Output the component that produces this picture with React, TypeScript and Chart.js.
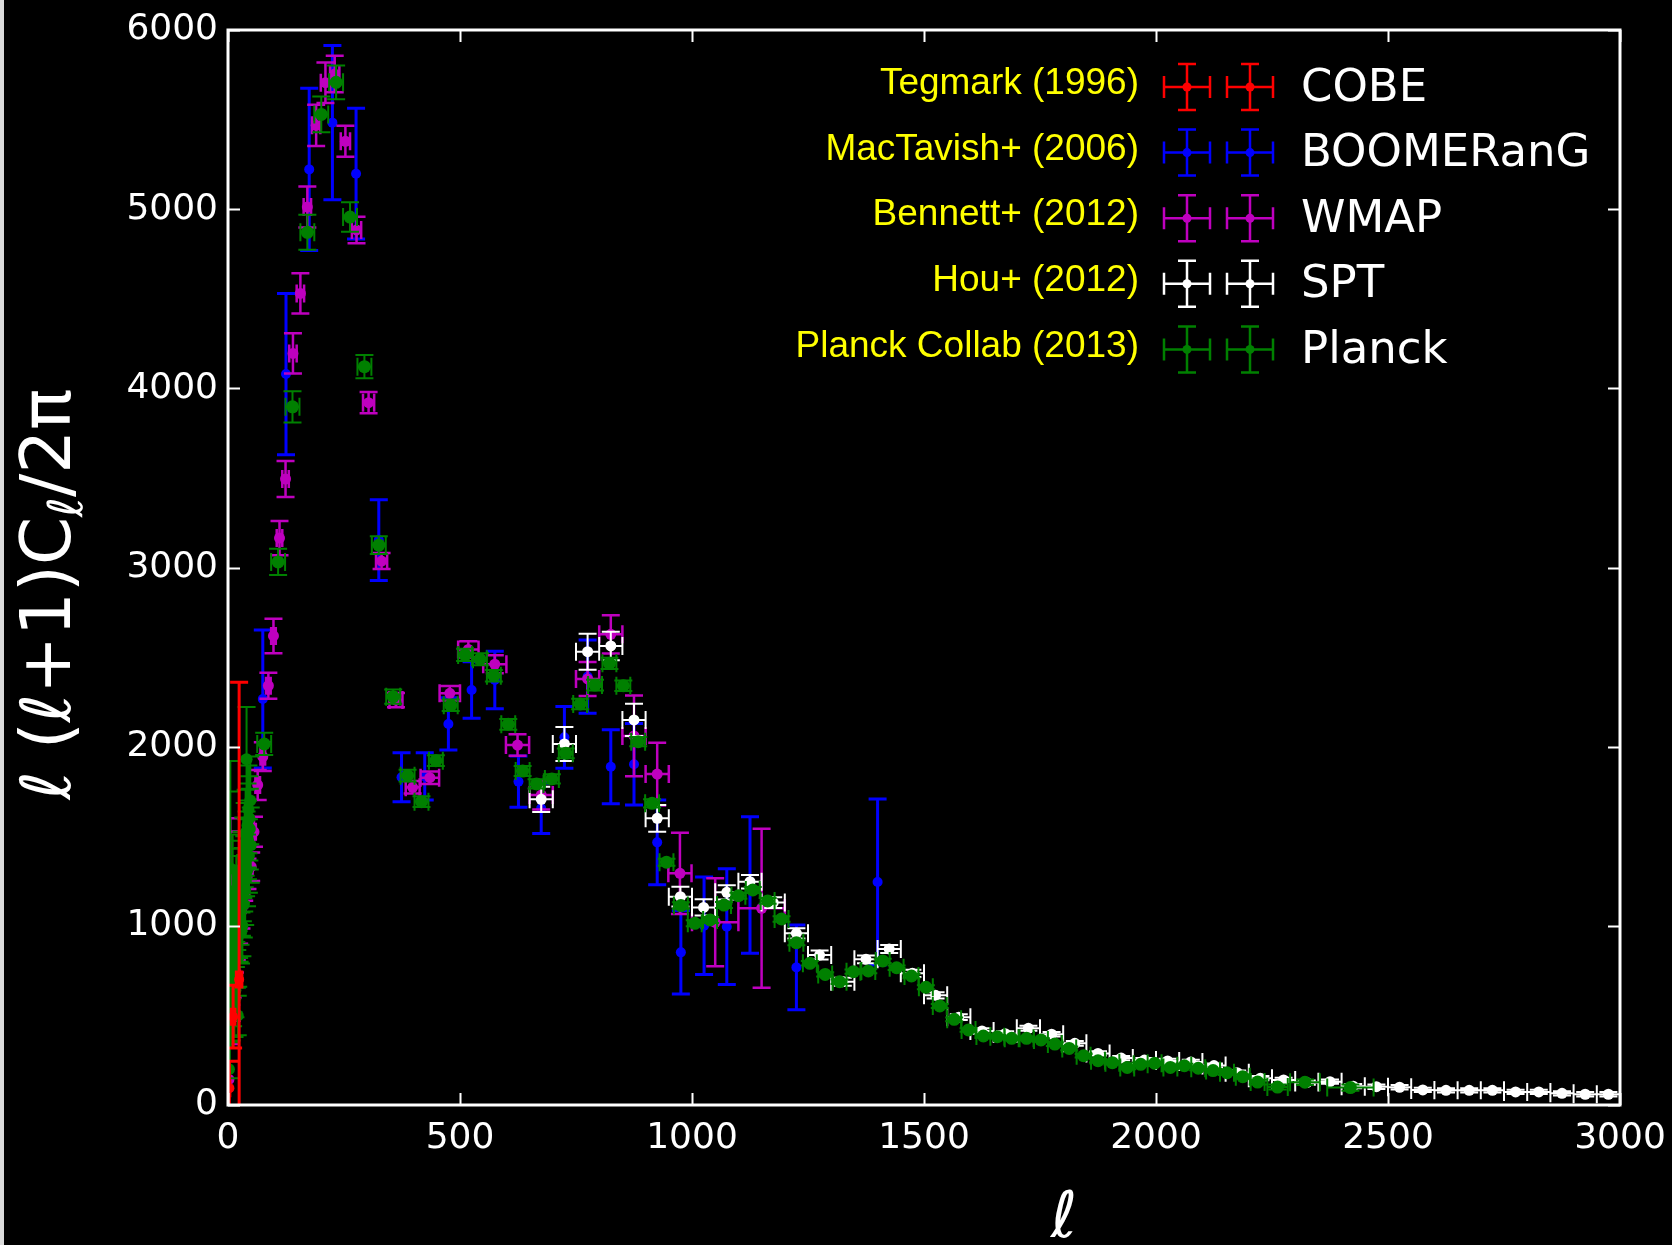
import React, { useEffect, useRef } from 'react';
import { Chart, registerables } from 'chart.js';

Chart.register(...registerables);

// ---------- CMB temperature power spectrum, D_ell = ell(ell+1)C_ell/2pi ----------

// COBE (Tegmark 1996)
const cobeEll = [3, 11, 24];
const cobeD = [94, 493, 700];
const cobeErr = [150, 175, 1660];
const cobeXErr = [1, 4, 6];

// BOOMERanG (MacTavish+ 2006)
const boomEll = [75, 125, 175, 225, 276, 325, 374, 424, 475, 525, 575, 626, 675, 725, 775, 825, 875, 925, 976, 1026, 1075, 1125, 1225, 1400];
const boomD = [2266, 4080, 5222, 5483, 5198, 3153, 1829, 1834, 2127, 2316, 2372, 1805, 1656, 2052, 2391, 1888, 1902, 1466, 852, 1001, 995, 1228, 768, 1245];
const boomErr = [385, 450, 453, 430, 365, 225, 137, 132, 146, 158, 160, 143, 140, 172, 205, 207, 228, 237, 233, 272, 323, 381, 237, 463];

// WMAP 9-year (Bennett+ 2012)
const wmapEll = [2, 3, 4, 5, 6, 7, 8, 9, 10, 12, 15, 19, 24, 29, 35, 42, 50, 56, 64, 75, 87, 98, 111, 124, 140, 156, 171, 190, 210, 230, 253, 277, 303, 331, 362, 398, 435, 478, 518, 575, 624, 675, 775, 825, 875, 925, 974, 1050, 1150];
const wmapD = [143, 1107, 640, 1270, 1050, 760, 640, 950, 760, 980, 860, 920, 1000, 1080, 1230, 1290, 1330, 1525, 1786, 1944, 2340, 2618, 3164, 3494, 4195, 4530, 5012, 5468, 5706, 5754, 5379, 4884, 3920, 3036, 2260, 1773, 1827, 2298, 2543, 2460, 2009, 1730, 2378, 2627, 2060, 1847, 1293, 1020, 1098];
const wmapErr = [450, 420, 300, 330, 260, 200, 170, 200, 160, 150, 120, 110, 100, 95, 90, 85, 80, 84, 84, 80, 72, 96, 95, 101, 112, 113, 114, 115, 113, 102, 87, 74, 59, 45, 40, 35, 35, 40, 45, 50, 60, 80, 95, 107, 225, 175, 227, 246, 444];
const wmapXErr = [0, 0, 0, 0, 0, 0, 0, 0, 0, 1, 2, 2, 2, 2, 3, 3, 3, 4, 5, 5, 5, 5, 6, 7, 8, 8, 8, 9, 10, 10, 10, 10, 12, 12, 14, 15, 20, 22, 22, 25, 25, 25, 25, 25, 25, 25, 25, 50, 50];

// SPT (Hou+ 2012)
const sptEll = [675, 725, 775, 825, 875, 925, 975, 1025, 1075, 1125, 1175, 1225, 1275, 1325, 1375, 1425, 1475, 1525, 1575, 1625, 1675, 1725, 1775, 1825, 1875, 1925, 1975, 2025, 2075, 2125, 2175, 2225, 2275, 2325, 2375, 2425, 2475, 2525, 2575, 2625, 2675, 2725, 2775, 2825, 2875, 2925, 2975];
const sptD = [1706, 2015, 2530, 2562, 2149, 1600, 1163, 1103, 1187, 1246, 1130, 958, 837, 688, 813, 871, 735, 612, 490, 413, 398, 428, 395, 344, 288, 262, 251, 246, 240, 220, 180, 150, 140, 125, 130, 105, 102, 99, 84, 82, 82, 82, 73, 73, 65, 60, 60];
const sptErr = [70, 95, 100, 80, 90, 75, 55, 45, 40, 38, 30, 28, 25, 22, 22, 22, 20, 18, 16, 15, 14, 14, 13, 13, 12, 12, 12, 12, 12, 12, 12, 12, 12, 12, 12, 12, 12, 12, 12, 12, 12, 12, 12, 12, 12, 12, 12];
const sptXErr = [25, 25, 25, 25, 25, 25, 25, 25, 25, 25, 25, 25, 25, 25, 25, 25, 25, 25, 25, 25, 25, 25, 25, 25, 25, 25, 25, 25, 25, 25, 25, 25, 25, 25, 25, 25, 25, 25, 25, 25, 25, 25, 25, 25, 25, 25, 25];

// Planck 2013 (Planck Collab): unbinned low-ell part
const planckLowEll = [2, 3, 4, 5, 6, 7, 8, 9, 10, 11, 12, 13, 14, 15, 16, 17, 18, 19, 20, 21, 22, 23, 24, 25, 26, 27, 28, 29, 30, 31, 32, 33, 34, 35, 36, 37, 38, 39, 40, 41, 42, 43, 44, 45, 46, 47, 48, 49];
const planckLowD = [200, 1050, 480, 1320, 620, 900, 560, 850, 1180, 620, 900, 1050, 520, 1080, 640, 980, 1150, 820, 1080, 500, 820, 1200, 1010, 980, 1250, 1090, 960, 1300, 1140, 1000, 1230, 1380, 1120, 1290, 1450, 1200, 1520, 1380, 1930, 1310, 1560, 1480, 1650, 1390, 1600, 1540, 1700, 1450];
const planckLowErr = [400, 700, 330, 600, 300, 320, 200, 260, 330, 180, 230, 250, 140, 250, 150, 210, 240, 165, 215, 110, 160, 230, 190, 180, 225, 195, 170, 225, 195, 170, 205, 225, 185, 210, 235, 195, 240, 215, 292, 200, 235, 220, 245, 205, 235, 225, 245, 210];

// Planck 2013: binned high-ell part
const planckBinEll = [78, 108, 139, 171, 201, 233, 263, 294, 325, 356, 387, 417, 448, 480, 511, 543, 573, 604, 635, 665, 698, 728, 759, 791, 822, 852, 884, 914, 945, 976, 1006, 1039, 1069, 1100, 1131, 1163, 1193, 1225, 1254, 1287, 1318, 1348, 1380, 1411, 1441, 1473, 1504, 1534, 1565, 1596, 1628, 1658, 1689, 1721, 1752, 1782, 1813, 1844, 1875, 1906, 1938, 1967, 1997, 2031, 2061, 2091, 2123, 2153, 2187, 2219, 2262, 2321, 2419];
const planckBinD = [2015, 3031, 3897, 4871, 5529, 5708, 4956, 4121, 3125, 2279, 1838, 1693, 1922, 2231, 2512, 2488, 2396, 2125, 1864, 1792, 1820, 1963, 2238, 2344, 2465, 2340, 2028, 1684, 1355, 1113, 1014, 1033, 1116, 1168, 1200, 1139, 1038, 906, 791, 729, 688, 744, 748, 804, 766, 720, 657, 553, 478, 419, 385, 381, 372, 372, 363, 340, 316, 275, 247, 236, 210, 227, 233, 210, 219, 205, 192, 180, 158, 128, 100, 127, 97];
const planckBinErr = [62, 73, 87, 98, 100, 94, 82, 65, 50, 40, 33, 30, 30, 32, 34, 33, 32, 30, 28, 26, 26, 27, 29, 30, 31, 29, 26, 23, 20, 18, 17, 17, 17, 17, 17, 16, 15, 14, 13, 12, 12, 12, 12, 12, 12, 12, 11, 11, 10, 10, 10, 10, 10, 10, 10, 10, 10, 10, 10, 10, 10, 10, 10, 10, 11, 11, 11, 12, 12, 13, 14, 15, 18];
const planckBinXErr = [15, 15, 15, 15, 15, 15, 15, 15, 15, 15, 15, 15, 15, 15, 15, 15, 15, 15, 15, 15, 15, 15, 15, 15, 15, 15, 15, 15, 15, 15, 15, 15, 15, 15, 15, 15, 15, 15, 15, 15, 15, 15, 15, 15, 15, 15, 15, 15, 15, 15, 15, 15, 15, 15, 15, 15, 15, 15, 15, 15, 15, 15, 15, 15, 15, 15, 15, 15, 15, 15, 22, 32, 50];

// Axis ticks
const xTicks = [0, 500, 1000, 1500, 2000, 2500, 3000];
const yTicks = [0, 1000, 2000, 3000, 4000, 5000, 6000];

// Legend: reference, experiment name
const legendRefs = ['Tegmark (1996)', 'MacTavish+ (2006)', 'Bennett+ (2012)', 'Hou+ (2012)', 'Planck Collab (2013)'];
const legendNames = ['COBE', 'BOOMERanG', 'WMAP', 'SPT', 'Planck'];

const RED = '#ff0000';
const BLUE = '#0000ff';
const MAGENTA = '#bf00bf';
const WHITE = '#ffffff';
const GREEN = '#008000';
const legendColors = [RED, BLUE, MAGENTA, WHITE, GREEN];

const SANS = "'DejaVu Sans'";
const REF_FONT = "'Liberation Sans'";
const CAP = 9;

function zip(ell: number[], d: number[]) {
  return ell.map((x, i) => ({ x, y: d[i] }));
}

function series(label: string, color: string, ell: number[], d: number[], yErr: number[], xErr: number[] | null, radius: number, barWidth: number, order: number) {
  return {
    label,
    data: zip(ell, d),
    yErr,
    xErr,
    barWidth,
    order,
    pointRadius: radius,
    pointHoverRadius: radius,
    pointBackgroundColor: color,
    pointBorderColor: color,
    pointBorderWidth: 0,
    borderColor: color,
    backgroundColor: color,
    showLine: false,
  };
}

// error bars with caps, drawn just before each dataset's markers
const errorBarPlugin = {
  id: 'errorBars',
  beforeDatasetDraw(chart: any, args: any) {
    const ds = chart.data.datasets[args.index];
    const { ctx, chartArea: a } = chart;
    const xs = chart.scales.x;
    const ys = chart.scales.y;
    ctx.save();
    ctx.beginPath();
    ctx.rect(a.left, a.top, a.right - a.left, a.bottom - a.top);
    ctx.clip();
    ctx.strokeStyle = ds.borderColor;
    ctx.lineWidth = ds.barWidth;
    ctx.lineCap = 'butt';
    ctx.beginPath();
    ds.data.forEach((p: any, i: number) => {
      const px = xs.getPixelForValue(p.x);
      const py = ys.getPixelForValue(p.y);
      const ye = ds.yErr ? ds.yErr[i] : 0;
      const xe = ds.xErr ? ds.xErr[i] : 0;
      if (ye) {
        const t = ys.getPixelForValue(p.y + ye);
        const b = ys.getPixelForValue(p.y - ye);
        ctx.moveTo(px, t); ctx.lineTo(px, b);
        ctx.moveTo(px - CAP, t); ctx.lineTo(px + CAP, t);
        ctx.moveTo(px - CAP, b); ctx.lineTo(px + CAP, b);
      }
      if (xe) {
        const l = xs.getPixelForValue(p.x - xe);
        const r = xs.getPixelForValue(p.x + xe);
        ctx.moveTo(l, py); ctx.lineTo(r, py);
        ctx.moveTo(l, py - CAP); ctx.lineTo(l, py + CAP);
        ctx.moveTo(r, py - CAP); ctx.lineTo(r, py + CAP);
      }
    });
    ctx.stroke();
    ctx.restore();
  },
};

// black page, frame on four sides with inward ticks
const framePlugin = {
  id: 'frame',
  beforeDraw(chart: any) {
    const { ctx, width, height } = chart;
    ctx.save();
    ctx.fillStyle = '#000000';
    ctx.fillRect(0, 0, width, height);
    ctx.fillStyle = '#dcdcdc';
    ctx.fillRect(0, 0, 4, height);
    ctx.restore();
  },
  afterDatasetsDraw(chart: any) {
    const { ctx, chartArea: a } = chart;
    const xs = chart.scales.x;
    const ys = chart.scales.y;
    ctx.save();
    ctx.strokeStyle = '#ffffff';
    ctx.lineWidth = 2;
    ctx.beginPath();
    const TL = 12;
    xTicks.forEach((v) => {
      const px = Math.round(xs.getPixelForValue(v)) + 0.5;
      ctx.moveTo(px, a.bottom); ctx.lineTo(px, a.bottom - TL);
      ctx.moveTo(px, a.top); ctx.lineTo(px, a.top + TL);
    });
    yTicks.forEach((v) => {
      const py = Math.round(ys.getPixelForValue(v)) + 0.5;
      ctx.moveTo(a.left, py); ctx.lineTo(a.left + TL, py);
      ctx.moveTo(a.right, py); ctx.lineTo(a.right - TL, py);
    });
    ctx.stroke();
    ctx.lineWidth = 3;
    ctx.strokeRect(a.left, a.top, a.right - a.left, a.bottom - a.top);
    ctx.restore();
  },
};

function drawLegendMarker(ctx: CanvasRenderingContext2D, cx: number, cy: number, color: string) {
  ctx.strokeStyle = color;
  ctx.fillStyle = color;
  ctx.lineWidth = 2.5;
  ctx.beginPath();
  ctx.moveTo(cx - 23, cy); ctx.lineTo(cx + 23, cy);
  ctx.moveTo(cx - 23, cy - 11); ctx.lineTo(cx - 23, cy + 11);
  ctx.moveTo(cx + 23, cy - 11); ctx.lineTo(cx + 23, cy + 11);
  ctx.moveTo(cx, cy - 23); ctx.lineTo(cx, cy + 23);
  ctx.moveTo(cx - 9, cy - 23); ctx.lineTo(cx + 9, cy - 23);
  ctx.moveTo(cx - 9, cy + 23); ctx.lineTo(cx + 9, cy + 23);
  ctx.stroke();
  ctx.beginPath();
  ctx.arc(cx, cy, 4.5, 0, Math.PI * 2);
  ctx.fill();
}

const legendPlugin = {
  id: 'refLegend',
  afterDraw(chart: any) {
    const { ctx } = chart;
    ctx.save();
    legendNames.forEach((name, i) => {
      const cy = 87 + i * 65.6;
      ctx.textBaseline = 'middle';
      ctx.fillStyle = '#ffff00';
      ctx.font = `37px ${REF_FONT}`;
      ctx.textAlign = 'right';
      ctx.fillText(legendRefs[i], 1139, cy - 3);
      drawLegendMarker(ctx, 1187, cy, legendColors[i]);
      drawLegendMarker(ctx, 1250, cy, legendColors[i]);
      ctx.fillStyle = '#ffffff';
      ctx.font = `45px ${SANS}`;
      ctx.textAlign = 'left';
      ctx.fillText(name, 1301, cy + 2);
    });
    ctx.restore();
  },
};

// axis titles: ell on x, ell(ell+1)C_ell/2pi on y (with subscript)
const titlePlugin = {
  id: 'axisTitles',
  afterDraw(chart: any) {
    const { ctx } = chart;
    ctx.save();
    ctx.fillStyle = '#ffffff';
    ctx.textBaseline = 'alphabetic';
    ctx.textAlign = 'center';
    ctx.font = `64px ${SANS}`;
    ctx.fillText('ℓ', 1064, 1237);

    const parts = [
      { t: 'ℓ (ℓ+1)C', size: 69, dy: 0 },
      { t: 'ℓ', size: 48, dy: 12 },
      { t: '/2π', size: 69, dy: 0 },
    ];
    ctx.textAlign = 'left';
    let total = 0;
    parts.forEach((p) => {
      ctx.font = `${p.size}px ${SANS}`;
      total += ctx.measureText(p.t).width;
    });
    ctx.translate(70, 594);
    ctx.rotate(-Math.PI / 2);
    let x = -total / 2;
    parts.forEach((p) => {
      ctx.font = `${p.size}px ${SANS}`;
      ctx.fillText(p.t, x, p.dy);
      x += ctx.measureText(p.t).width;
    });
    ctx.restore();
  },
};

export default function App() {
  const ref = useRef<HTMLCanvasElement | null>(null);

  useEffect(() => {
    document.body.style.margin = '0';
    document.body.style.background = '#000000';
    const canvas = ref.current;
    if (!canvas) return;

    const datasets: any[] = [
      series('COBE', RED, cobeEll, cobeD, cobeErr, cobeXErr, 5, 3, 0),
      series('Planck', GREEN, planckLowEll, planckLowD, planckLowErr, null, 6, 2, 1),
      series('Planck', GREEN, planckBinEll, planckBinD, planckBinErr, planckBinXErr, 6.5, 2, 1),
      series('SPT', WHITE, sptEll, sptD, sptErr, sptXErr, 5.5, 2, 2),
      series('WMAP', MAGENTA, wmapEll, wmapD, wmapErr, wmapXErr, 5.5, 2.5, 3),
      series('BOOMERanG', BLUE, boomEll, boomD, boomErr, null, 5, 3, 4),
    ];

    const tickFont = { family: 'DejaVu Sans', size: 36 };
    const plain = (v: any) => String(v);

    const chart = new Chart(canvas, {
      type: 'scatter',
      data: { datasets },
      options: {
        animation: false,
        responsive: false,
        devicePixelRatio: 1,
        events: [],
        layout: { padding: { left: 0, top: 30, right: 52, bottom: 0 } },
        plugins: {
          legend: { display: false },
          tooltip: { enabled: false },
        },
        scales: {
          x: {
            type: 'linear',
            min: 0,
            max: 3000,
            afterBuildTicks: (s: any) => { s.ticks = xTicks.map((v) => ({ value: v })); },
            afterFit: (s: any) => { s.height = 140; s.paddingLeft = 0; s.paddingRight = 0; },
            ticks: { color: '#ffffff', font: tickFont, padding: 12, maxRotation: 0, autoSkip: false, callback: plain },
            grid: { display: false, drawTicks: false },
            border: { display: false },
          },
          y: {
            type: 'linear',
            min: 0,
            max: 6000,
            afterBuildTicks: (s: any) => { s.ticks = yTicks.map((v) => ({ value: v })); },
            afterFit: (s: any) => { s.width = 228; s.paddingTop = 0; s.paddingBottom = 0; },
            ticks: { color: '#ffffff', font: tickFont, padding: 10, autoSkip: false, callback: plain },
            grid: { display: false, drawTicks: false },
            border: { display: false },
          },
        },
      } as any,
      plugins: [framePlugin, errorBarPlugin, legendPlugin, titlePlugin],
    });

    return () => chart.destroy();
  }, []);

  return (
    <div style={{ width: 1672, height: 1245, background: '#000000' }}>
      <canvas ref={ref} width={1672} height={1245} style={{ display: 'block' }} />
    </div>
  );
}
